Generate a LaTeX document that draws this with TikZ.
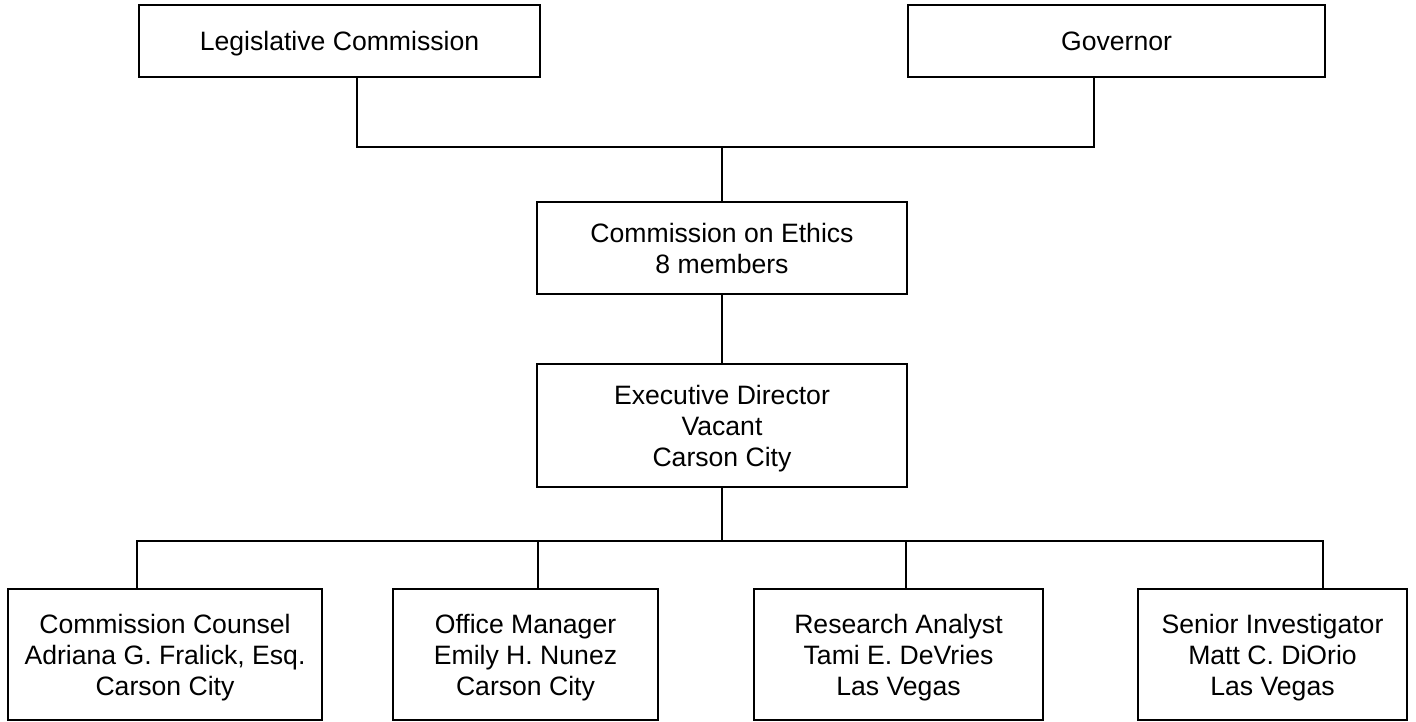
\documentclass[tikz,border=0pt]{standalone}
\usepackage{fontspec}
\setmainfont{Liberation Sans}
\usepackage{tikz}

\tikzset{
  orgbox/.style={draw, line width=1.5pt, rectangle, inner sep=0pt, align=center,
    text depth=0pt, font=\fontsize{26.6}{31}\selectfont},
  orgline/.style={line width=1.5pt}
}

\begin{document}
\begin{tikzpicture}[x=1pt,y=-1pt]
            \useasboundingbox (0,0) rectangle (1416,721);
            \node[orgbox, minimum width=401, minimum height=72] (legcom) at (339.5,41) {Legislative Commission};
            \node[orgbox, minimum width=417, minimum height=72] (gov) at (1116.5,41) {Governor};
            \node[orgbox, minimum width=370, minimum height=92] (ethics) at (722,248) {Commission on Ethics\\8 members};
            \node[orgbox, minimum width=370, minimum height=123] (director) at (722,425.5) {Executive Director\\Vacant\\Carson City};
            \node[orgbox, minimum width=314, minimum height=131] (counsel) at (165,654.5) {Commission Counsel\\Adriana G. Fralick, Esq.\\Carson City};
            \node[orgbox, minimum width=265, minimum height=131] (office) at (525.5,654.5) {Office Manager\\Emily H. Nunez\\Carson City};
            \node[orgbox, minimum width=289, minimum height=131] (research) at (898.5,654.5) {Research Analyst\\Tami E. DeVries\\Las Vegas};
            \node[orgbox, minimum width=269, minimum height=131] (investig) at (1272.5,654.5) {Senior Investigator\\Matt C. DiOrio\\Las Vegas};
            \coordinate (join) at (722,147);
            \coordinate (bus) at (722,541);

            \draw[orgline] ([xshift=17.5]legcom.south) |- (join) -| ([xshift=-22.5]gov.south);
            \draw[orgline] (join) -- (ethics.north);
            \draw[orgline] (ethics.south) -- (director.north);
            \draw[orgline] (director.south) -- (bus);
            \draw[orgline] ([xshift=-28]counsel.north) |- (bus) -| ([xshift=50.5]investig.north);
            \draw[orgline] ([xshift=12.5]office.north) -- ([xshift=12.5]office.north |- bus);
            \draw[orgline] ([xshift=7.5]research.north) -- ([xshift=7.5]research.north |- bus);
        \end{tikzpicture}
\end{document}
